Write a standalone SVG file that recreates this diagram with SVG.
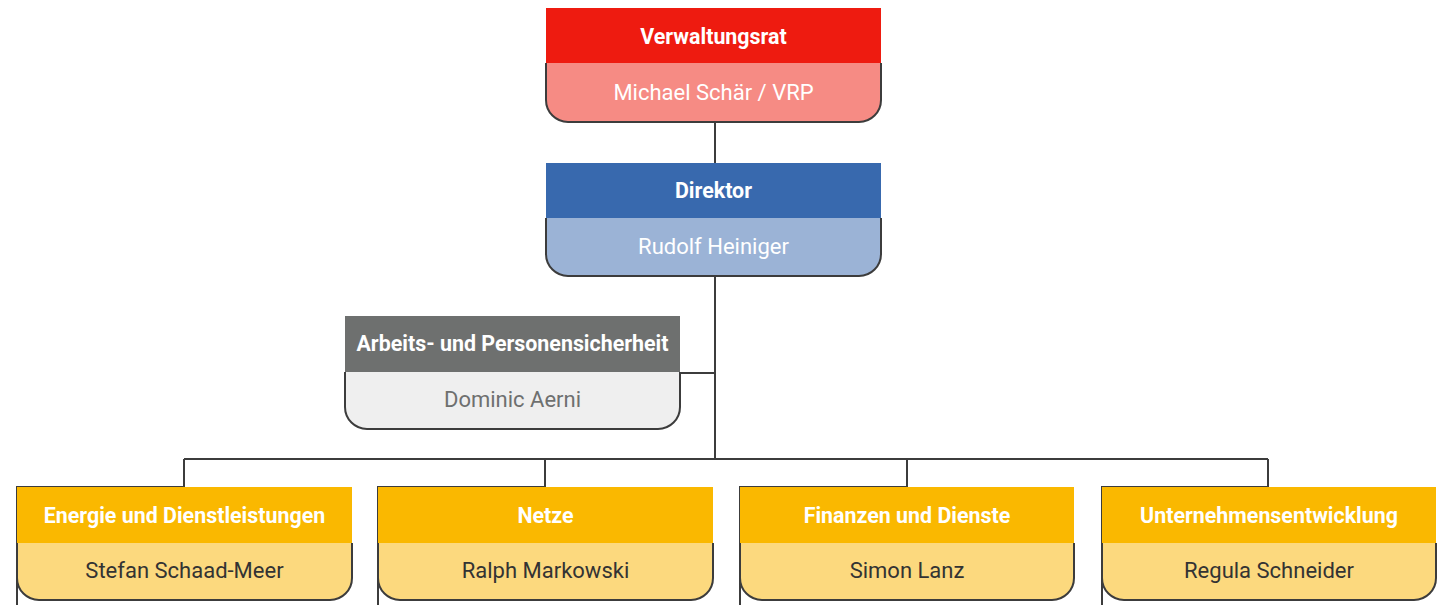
<svg xmlns="http://www.w3.org/2000/svg" width="1450" height="605" viewBox="0 0 1450 605">
<style>
.hd{font-family:Roboto,"Liberation Sans",sans-serif;font-weight:700;font-size:21.4px;fill:#fff;text-anchor:middle}
.nm{font-family:Roboto,"Liberation Sans",sans-serif;font-size:22px;text-anchor:middle}
.ln{fill:none;stroke:#3c3c3c;stroke-width:2}
.red .h{fill:#ee1b10}.red .b{fill:#f68b84}.red .nm{fill:#fff}
.blue .h{fill:#3869ae}.blue .b{fill:#9bb3d6}.blue .nm{fill:#fff}
.gray .h{fill:#6e706f}.gray .b{fill:#efefef}.gray .nm{fill:#6e706f}
.yel .h{fill:#fab800}.yel .b{fill:#fcd97e}.yel .nm{fill:#333}
.b{stroke:#3c3c3c;stroke-width:2}
</style>
<rect width="1450" height="605" fill="#fff"/>
<g id="connectors">
<path class="ln" d="M715,122V163M715,276V459M680,373H715M184,459H1268"/>
<path class="ln" d="M184,459V487H17V605"/>
<path class="ln" d="M545,459V487H378V605"/>
<path class="ln" d="M907,459V487H740V605"/>
<path class="ln" d="M1268,459V487H1102V605"/>
</g>
<g id="verwaltungsrat" class="red">
<rect class="h" x="546" y="8" width="335" height="56"/>
<path class="b" d="M546,63V100A22,22 0 0 0 568,122H859A22,22 0 0 0 881,100V63"/>
<text class="hd" x="713.5" y="44">Verwaltungsrat</text>
<text class="nm" x="713.5" y="100">Michael Schär / VRP</text>
</g>
<g id="direktor" class="blue">
<rect class="h" x="546" y="163" width="335" height="56"/>
<path class="b" d="M546,218V254A22,22 0 0 0 568,276H859A22,22 0 0 0 881,254V218"/>
<text class="hd" x="713.5" y="198">Direktor</text>
<text class="nm" x="713.5" y="254">Rudolf Heiniger</text>
</g>
<g id="arbeitssicherheit" class="gray">
<rect class="h" x="345" y="316" width="335" height="57"/>
<path class="b" d="M345,372V407A22,22 0 0 0 367,429H658A22,22 0 0 0 680,407V372"/>
<text class="hd" x="512.5" y="351">Arbeits- und Personensicherheit</text>
<text class="nm" x="512.5" y="407">Dominic Aerni</text>
</g>
<g id="energie" class="yel">
<rect class="h" x="17" y="487" width="335" height="57"/>
<path class="b" d="M17,543V578A22,22 0 0 0 39,600H330A22,22 0 0 0 352,578V543"/>
<text class="hd" x="184.5" y="523">Energie und Dienstleistungen</text>
<text class="nm" x="184.5" y="578">Stefan Schaad-Meer</text>
</g>
<g id="netze" class="yel">
<rect class="h" x="378" y="487" width="335" height="57"/>
<path class="b" d="M378,543V578A22,22 0 0 0 400,600H691A22,22 0 0 0 713,578V543"/>
<text class="hd" x="545.5" y="523">Netze</text>
<text class="nm" x="545.5" y="578">Ralph Markowski</text>
</g>
<g id="finanzen" class="yel">
<rect class="h" x="740" y="487" width="334" height="57"/>
<path class="b" d="M740,543V578A22,22 0 0 0 762,600H1052A22,22 0 0 0 1074,578V543"/>
<text class="hd" x="907" y="523">Finanzen und Dienste</text>
<text class="nm" x="907" y="578">Simon Lanz</text>
</g>
<g id="unternehmensentwicklung" class="yel">
<rect class="h" x="1102" y="487" width="334" height="57"/>
<path class="b" d="M1102,543V578A22,22 0 0 0 1124,600H1414A22,22 0 0 0 1436,578V543"/>
<text class="hd" x="1269" y="523">Unternehmensentwicklung</text>
<text class="nm" x="1269" y="578">Regula Schneider</text>
</g>
</svg>
